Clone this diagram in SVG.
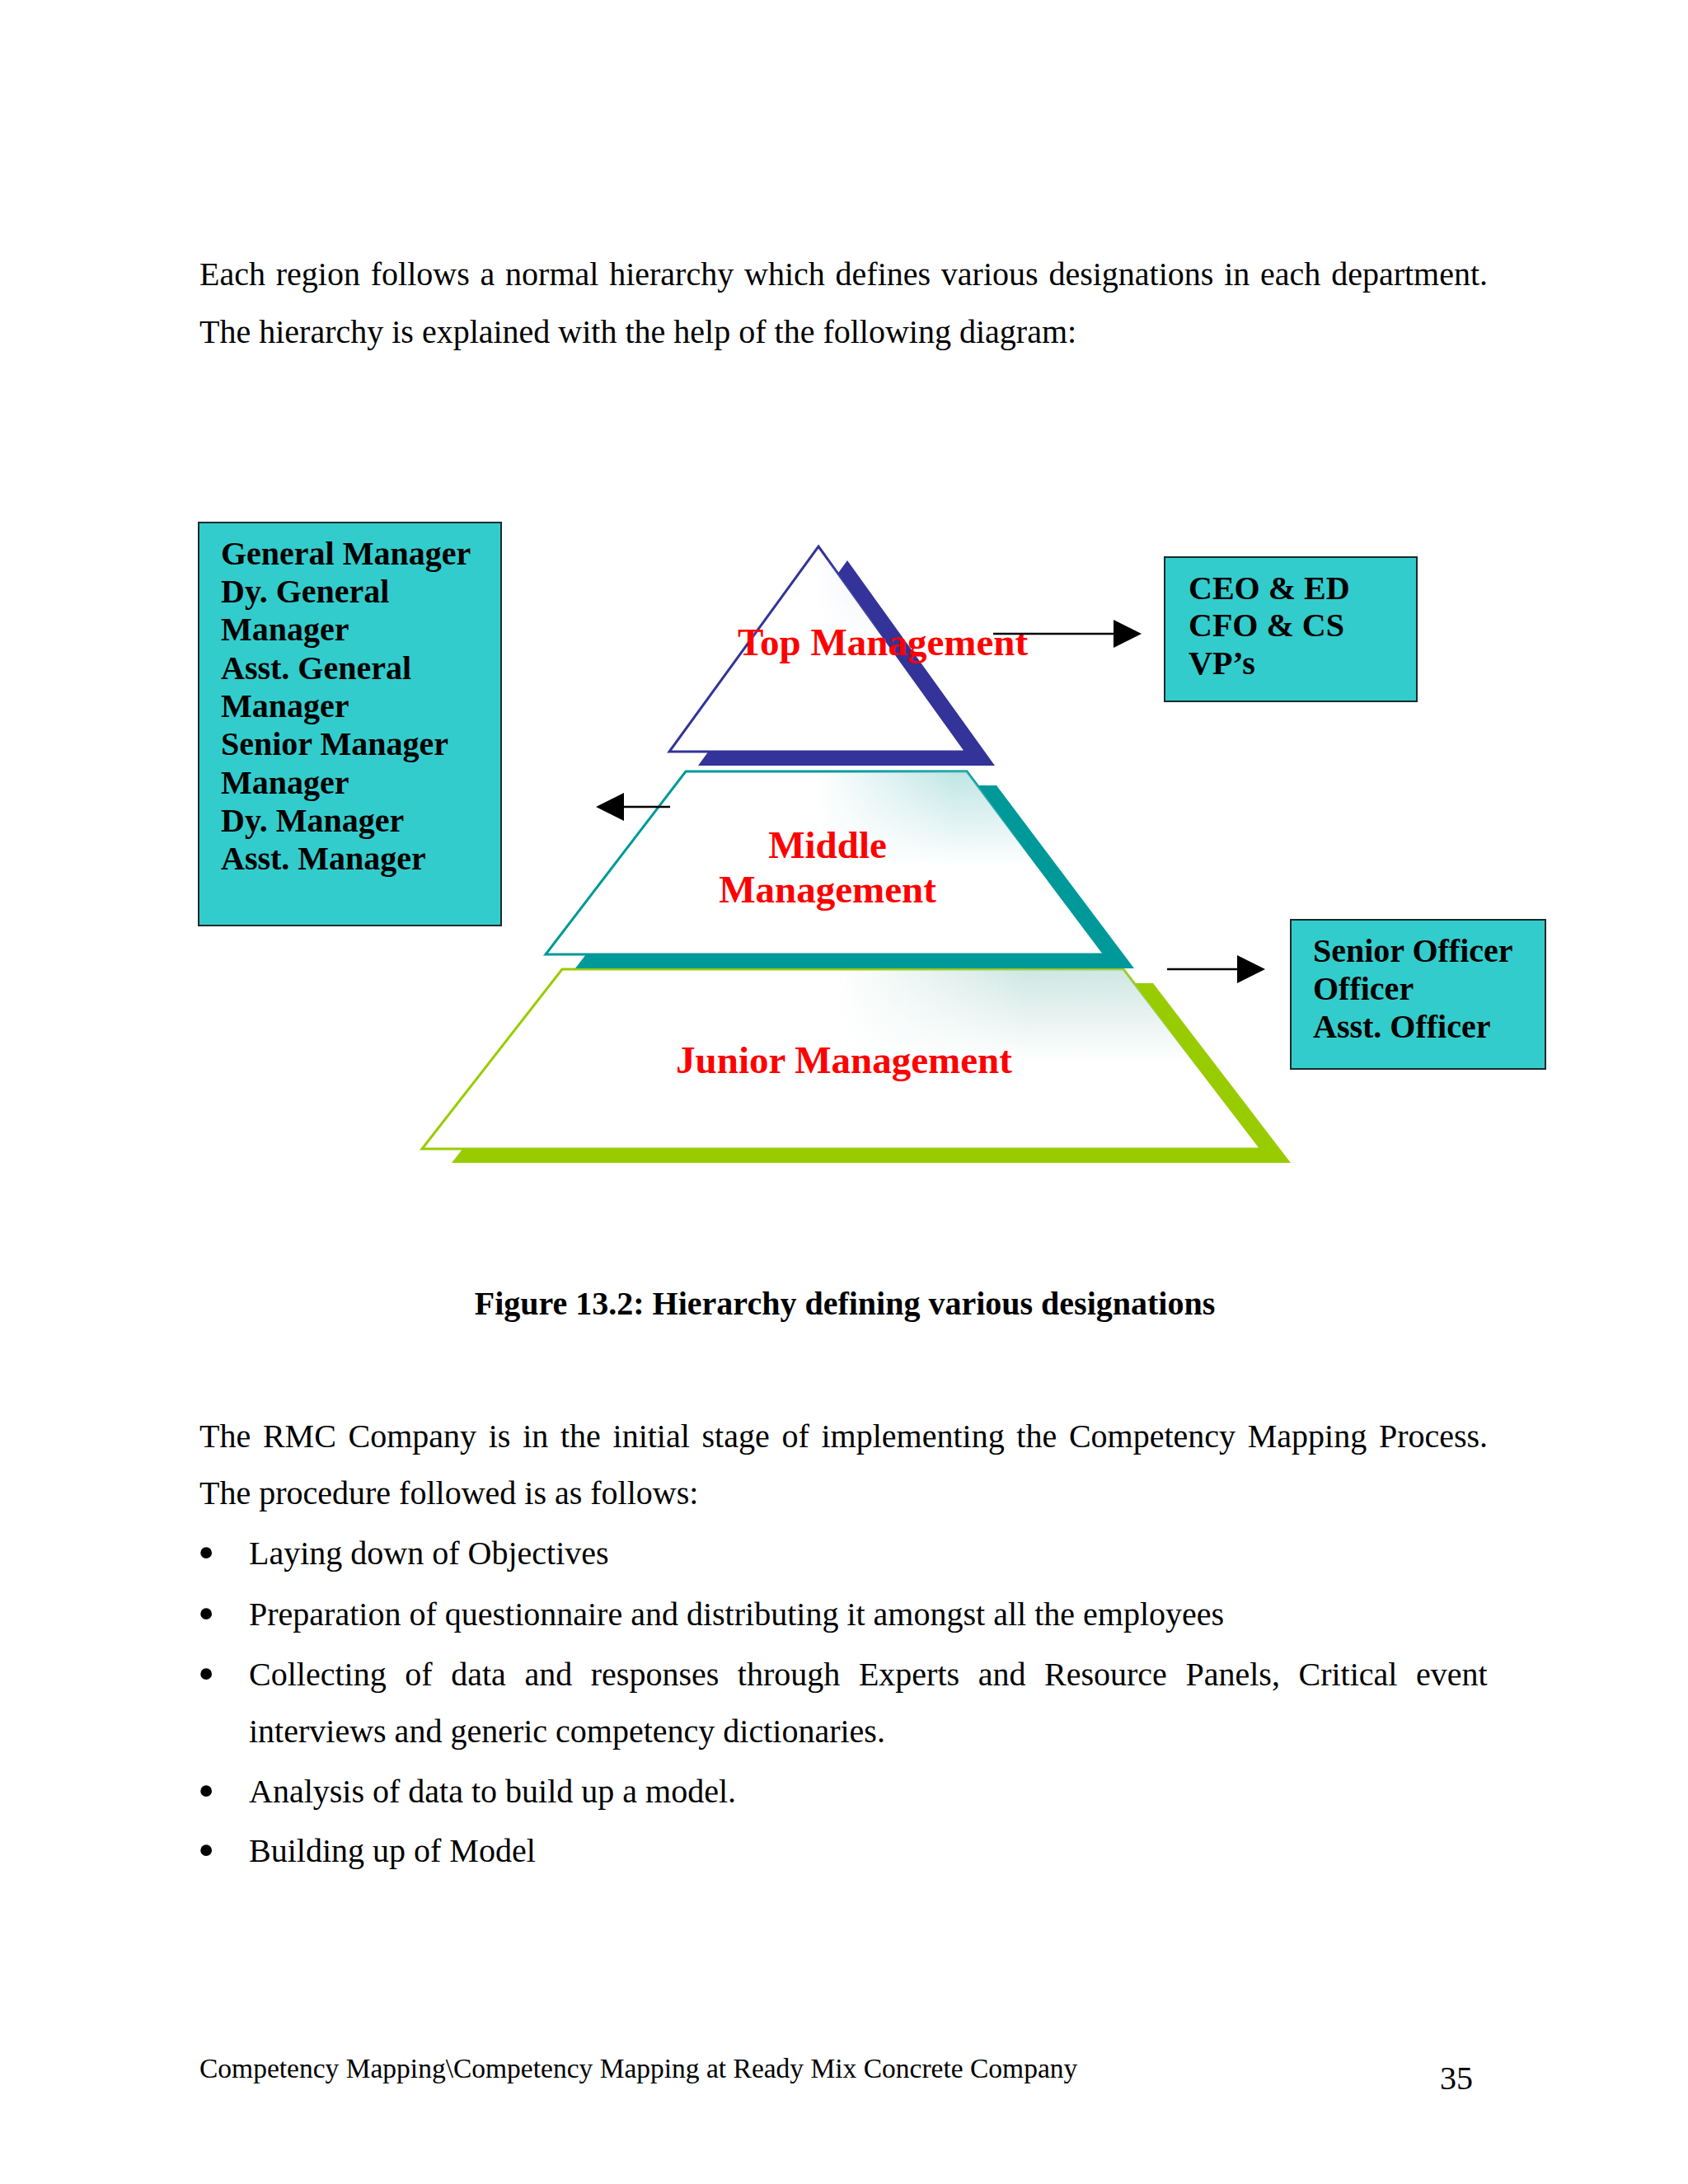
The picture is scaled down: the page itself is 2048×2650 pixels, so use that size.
<svg xmlns="http://www.w3.org/2000/svg" width="2048" height="2650" viewBox="0 0 2048 2650">
<style>
.body{font-family:"Liberation Serif","Times New Roman",serif;font-size:40px;fill:#000}
.bul{font-family:"Liberation Serif","Times New Roman",serif;font-size:58px;fill:#000}
.cap{font-family:"Liberation Serif","Times New Roman",serif;font-size:40px;font-weight:bold;fill:#000}
.foot{font-family:"Liberation Serif","Times New Roman",serif;font-size:33.5px;fill:#000}
.lbl{font-family:"Liberation Serif","Times New Roman",serif;font-size:47px;font-weight:bold;fill:#FF0000}
.box{fill:#33CCCC;stroke:#1a2a2a;stroke-width:2}
.boxtxt{font-family:"Liberation Serif","Times New Roman",serif;font-size:40px;font-weight:bold;fill:#000}
.conn line{stroke:#000;stroke-width:2.5}
.conn polygon{fill:#000}
</style>
<defs>
<linearGradient id="hTop" x1="0" y1="0" x2="1" y2="0"><stop offset="0" stop-color="#c8d4ec" stop-opacity="0"/><stop offset="0.7" stop-color="#c8d4ec" stop-opacity="0.5"/></linearGradient>
<linearGradient id="hMid" x1="0" y1="0" x2="1" y2="0"><stop offset="0" stop-color="#8ccfcf" stop-opacity="0"/><stop offset="0.6" stop-color="#8ccfcf" stop-opacity="0.55"/></linearGradient>
<linearGradient id="hJun" x1="0" y1="0" x2="1" y2="0"><stop offset="0" stop-color="#9fcfc6" stop-opacity="0"/><stop offset="0.5" stop-color="#9fcfc6" stop-opacity="0.5"/></linearGradient>
<linearGradient id="vFade" x1="0" y1="0" x2="0" y2="1"><stop offset="0" stop-color="#fff"/><stop offset="1" stop-color="#000"/></linearGradient>
<mask id="mTop" maskUnits="userSpaceOnUse" x="0" y="0" width="2048" height="2650"><rect x="990" y="680" width="130" height="100" fill="url(#vFade)"/></mask>
<mask id="mMid" maskUnits="userSpaceOnUse" x="0" y="0" width="2048" height="2650"><rect x="990" y="936" width="280" height="115" fill="url(#vFade)"/></mask>
<mask id="mJun" maskUnits="userSpaceOnUse" x="0" y="0" width="2048" height="2650"><rect x="1015" y="1176" width="455" height="112" fill="url(#vFade)"/></mask>
<clipPath id="cTop"><polygon points="993,663 1172,912 812,912"/></clipPath>
<clipPath id="cMid"><polygon points="832,936 1173,936 1340,1158 662,1158"/></clipPath>
<clipPath id="cJun"><polygon points="682,1176 1363,1176 1530,1394 512,1394"/></clipPath>
</defs>
<rect x="0" y="0" width="2048" height="2650" fill="#fff"/>

<g id="intro-text" class="body">
<text x="242" y="346" word-spacing="2.8">Each region follows a normal hierarchy which defines various designations in each department.</text>
<text x="242" y="416">The hierarchy is explained with the help of the following diagram:</text>
</g>

<g id="junior-management">
<polygon points="682,1176 1363,1176 1530,1394 512,1394" fill="#99CC00" transform="translate(36,17)"/>
<polygon points="682,1176 1363,1176 1530,1394 512,1394" fill="#fff" stroke="#99CC00" stroke-width="3"/>
<g clip-path="url(#cJun)"><rect x="1015" y="1176" width="455" height="112" fill="url(#hJun)" mask="url(#mJun)"/></g>
<text class="lbl" x="1024" y="1302" text-anchor="middle">Junior Management</text>
</g>

<g id="middle-management">
<polygon points="832,936 1173,936 1340,1158 662,1158" fill="#009999" transform="translate(36,17)"/>
<polygon points="832,936 1173,936 1340,1158 662,1158" fill="#fff" stroke="#009999" stroke-width="3"/>
<g clip-path="url(#cMid)"><rect x="990" y="936" width="280" height="115" fill="url(#hMid)" mask="url(#mMid)"/></g>
<text class="lbl" x="1004" y="1041" text-anchor="middle">Middle</text>
<text class="lbl" x="1004" y="1095" text-anchor="middle">Management</text>
</g>

<g id="top-management">
<polygon points="993,663 1172,912 812,912" fill="#333399" transform="translate(35,17)"/>
<polygon points="993,663 1172,912 812,912" fill="#fff" stroke="#333399" stroke-width="3"/>
<g clip-path="url(#cTop)"><rect x="990" y="680" width="130" height="100" fill="url(#hTop)" mask="url(#mTop)"/></g>
<text class="lbl" x="895" y="795">Top Management</text>
</g>

<g id="middle-designations">
<rect class="box" x="241" y="634" width="367" height="489"/>
<text class="boxtxt" x="268" y="685">General Manager</text>
<text class="boxtxt" x="268" y="731">Dy. General</text>
<text class="boxtxt" x="268" y="777">Manager</text>
<text class="boxtxt" x="268" y="824">Asst. General</text>
<text class="boxtxt" x="268" y="870">Manager</text>
<text class="boxtxt" x="268" y="916">Senior Manager</text>
<text class="boxtxt" x="268" y="963">Manager</text>
<text class="boxtxt" x="268" y="1009">Dy. Manager</text>
<text class="boxtxt" x="268" y="1055">Asst. Manager</text>
</g>

<g id="top-designations">
<rect class="box" x="1413" y="676" width="306" height="175"/>
<text class="boxtxt" x="1442" y="727">CEO &amp; ED</text>
<text class="boxtxt" x="1442" y="772">CFO &amp; CS</text>
<text class="boxtxt" x="1442" y="818">VP’s</text>
</g>

<g id="junior-designations">
<rect class="box" x="1566" y="1116" width="309" height="181"/>
<text class="boxtxt" x="1593" y="1167">Senior Officer</text>
<text class="boxtxt" x="1593" y="1213">Officer</text>
<text class="boxtxt" x="1593" y="1259">Asst. Officer</text>
</g>

<g id="connectors" class="conn">
<line x1="1205" y1="769" x2="1352" y2="769"/>
<polygon points="1351,752 1385,769 1351,786"/>
<line x1="813" y1="979" x2="756" y2="979"/>
<polygon points="757,962 723,979 757,996"/>
<line x1="1416" y1="1176" x2="1502" y2="1176"/>
<polygon points="1501,1159 1535,1176 1501,1193"/>
</g>

<g id="caption">
<text class="cap" x="1025" y="1595" text-anchor="middle">Figure 13.2: Hierarchy defining various designations</text>
</g>

<g id="procedure-text" class="body">
<text x="242" y="1756" word-spacing="4.7">The RMC Company is in the initial stage of implementing the Competency Mapping Process.</text>
<text x="242" y="1825">The procedure followed is as follows:</text>
<text class="bul" x="240" y="1903">•</text>
<text x="302" y="1898">Laying down of Objectives</text>
<text class="bul" x="240" y="1977">•</text>
<text x="302" y="1972">Preparation of questionnaire and distributing it amongst all the employees</text>
<text class="bul" x="240" y="2050">•</text>
<text x="302" y="2045" word-spacing="12.6">Collecting of data and responses through Experts and Resource Panels, Critical event</text>
<text x="302" y="2114">interviews and generic competency dictionaries.</text>
<text class="bul" x="240" y="2192">•</text>
<text x="302" y="2187">Analysis of data to build up a model.</text>
<text class="bul" x="240" y="2264">•</text>
<text x="302" y="2259">Building up of Model</text>
</g>

<g id="footer">
<text class="foot" x="242" y="2521">Competency Mapping\Competency Mapping at Ready Mix Concrete Company</text>
<text class="body" x="1747" y="2535">35</text>
</g>
</svg>
